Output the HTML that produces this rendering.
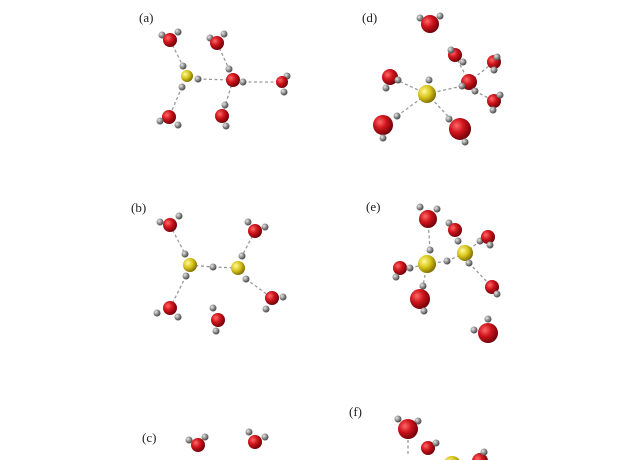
<!DOCTYPE html>
<html><head><meta charset="utf-8"><style>
html,body{margin:0;padding:0;background:#fff}
svg{display:block}
text{font-family:"Liberation Serif",serif;font-size:13px;fill:#222}
</style></head><body>
<svg width="640" height="460" viewBox="0 0 640 460">
<defs>
<radialGradient id="gO" cx="35%" cy="35%" r="70%"><stop offset="0" stop-color="#ff6a6a"/><stop offset="0.45" stop-color="#d0141c"/><stop offset="1" stop-color="#6a0008"/></radialGradient>
<radialGradient id="gS" cx="35%" cy="35%" r="70%"><stop offset="0" stop-color="#fffa9a"/><stop offset="0.5" stop-color="#d8c418"/><stop offset="1" stop-color="#7a6a00"/></radialGradient>
<radialGradient id="gH" cx="35%" cy="35%" r="70%"><stop offset="0" stop-color="#e8e8e8"/><stop offset="0.5" stop-color="#909090"/><stop offset="1" stop-color="#404040"/></radialGradient>
</defs>
<g id="bonds" stroke="#9a9a9a" stroke-width="1.3" stroke-dasharray="3,2.5"></g>
<g id="atoms"></g>
<text x="139" y="22">(a)</text>
<text x="362" y="22">(d)</text>
<text x="131" y="212">(b)</text>
<text x="366" y="211">(e)</text>
<text x="142" y="442">(c)</text>
<text x="349" y="416">(f)</text>
</svg>
<script>
// atoms: [x, y, radius, element]
const atomList = [
// (a)
[162,35,3.5,'H'],[178,32,3.5,'H'],[170,40,7,'O'],
[210,38,3.5,'H'],[224,34,3.5,'H'],[217,43,7,'O'],
[187,76,6,'S'],[183,66,3.5,'H'],[198,79,3.5,'H'],[182,87,3.5,'H'],
[229,69,3.5,'H'],[233,80,7,'O'],[243,82,3.5,'H'],
[287,76,3.5,'H'],[282,82,6,'O'],[284,92,3.5,'H'],
[169,117,7,'O'],[160,121,3.5,'H'],[178,125,3.5,'H'],
[225,105,3.5,'H'],[222,116,7,'O'],[226,126,3.5,'H'],
// (d)
[420,18,3.5,'H'],[440,16,3.5,'H'],[430,24,9,'O'],
[429,80,3.5,'H'],[427,94,9,'S'],
[390,77,8,'O'],[398,80,3.5,'H'],[386,88,3.5,'H'],
[397,116,3.5,'H'],[383,125,10,'O'],[383,138,3.5,'H'],
[449,119,3.5,'H'],[460,129,11,'O'],[465,142,3.5,'H'],
[455,55,7,'O'],[451,50,3.5,'H'],[463,62,3.5,'H'],
[469,82,8,'O'],[462,86,3.5,'H'],[475,91,3.5,'H'],
[494,62,7,'O'],[497,57,3.5,'H'],[494,70,3.5,'H'],
[494,101,7,'O'],[500,95,3.5,'H'],[493,110,3.5,'H'],
// (b)
[160,222,3.5,'H'],[179,216,3.5,'H'],[170,225,7,'O'],
[248,222,3.5,'H'],[265,227,3.5,'H'],[255,231,7,'O'],
[185,254,3.5,'H'],[190,265,7,'S'],[186,276,3.5,'H'],
[213,267,3.5,'H'],
[242,256,3.5,'H'],[238,268,7,'S'],[246,279,3.5,'H'],
[170,308,7,'O'],[157,313,3.5,'H'],[178,317,3.5,'H'],
[213,308,3.5,'H'],[218,320,7,'O'],[216,331,3.5,'H'],
[272,298,7,'O'],[283,297,3.5,'H'],[266,309,3.5,'H'],
// (e)
[420,207,3.5,'H'],[437,209,3.5,'H'],[428,219,9,'O'],
[449,223,3.5,'H'],[455,230,7,'O'],[458,241,3.5,'H'],
[480,241,3.5,'H'],[488,237,7,'O'],[490,245,3.5,'H'],
[430,250,3.5,'H'],[427,264,9,'S'],[447,261,3.5,'H'],
[465,253,8,'S'],[469,263,3.5,'H'],
[400,268,7,'O'],[410,268,3.5,'H'],[396,277,3.5,'H'],
[423,286,3.5,'H'],[420,299,10,'O'],[424,311,3.5,'H'],
[492,287,7,'O'],[497,294,3.5,'H'],
[488,319,3.5,'H'],[474,330,3.5,'H'],[488,333,10,'O'],
// (c)
[189,440,3.5,'H'],[205,437,3.5,'H'],[198,445,7,'O'],
[249,432,3.5,'H'],[265,437,3.5,'H'],[255,442,7,'O'],
// (f)
[398,419,3.5,'H'],[418,421,3.5,'H'],[408,429,10,'O'],
[428,448,7,'O'],[436,443,3.5,'H'],
[452,465,9,'S'],
[480,461,8,'O'],[484,452,3.5,'H']
];
// hydrogen bonds: [x1, y1, x2, y2]
const bondList = [
[170,40,183,66],[217,43,229,69],[198,79,233,80],[243,82,282,82],[182,87,169,117],[233,80,222,116],
[390,77,427,94],[397,116,427,94],[427,94,460,129],[427,94,462,86],[455,55,469,82],[475,91,494,101],[469,82,494,62],
[170,225,185,254],[255,231,242,256],[190,265,213,267],[213,267,238,268],[186,276,170,308],[246,279,272,298],
[428,219,430,250],[427,264,447,261],[447,261,465,253],[410,268,427,264],[427,264,423,286],[458,241,465,253],[465,253,480,241],[469,263,492,287],
[408,429,408,455]
];
const NS='http://www.w3.org/2000/svg';
const bg=document.getElementById('bonds');
bondList.forEach(b=>{
  const l=document.createElementNS(NS,'line');
  l.setAttribute('x1',b[0]);l.setAttribute('y1',b[1]);l.setAttribute('x2',b[2]);l.setAttribute('y2',b[3]);
  
  
  bg.appendChild(l);
});
const ag=document.getElementById('atoms');
const fills={O:'url(#gO)',S:'url(#gS)',H:'url(#gH)'};
const names={O:'oxygen-atom',S:'sulfur-atom',H:'hydrogen-atom'};
atomList.forEach(a=>{
  const c=document.createElementNS(NS,'circle');
  c.setAttribute('cx',a[0]);c.setAttribute('cy',a[1]);c.setAttribute('r',a[2]);
  c.setAttribute('fill',fills[a[3]]);
  
  
  ag.appendChild(c);
});
</script>
</body></html>
